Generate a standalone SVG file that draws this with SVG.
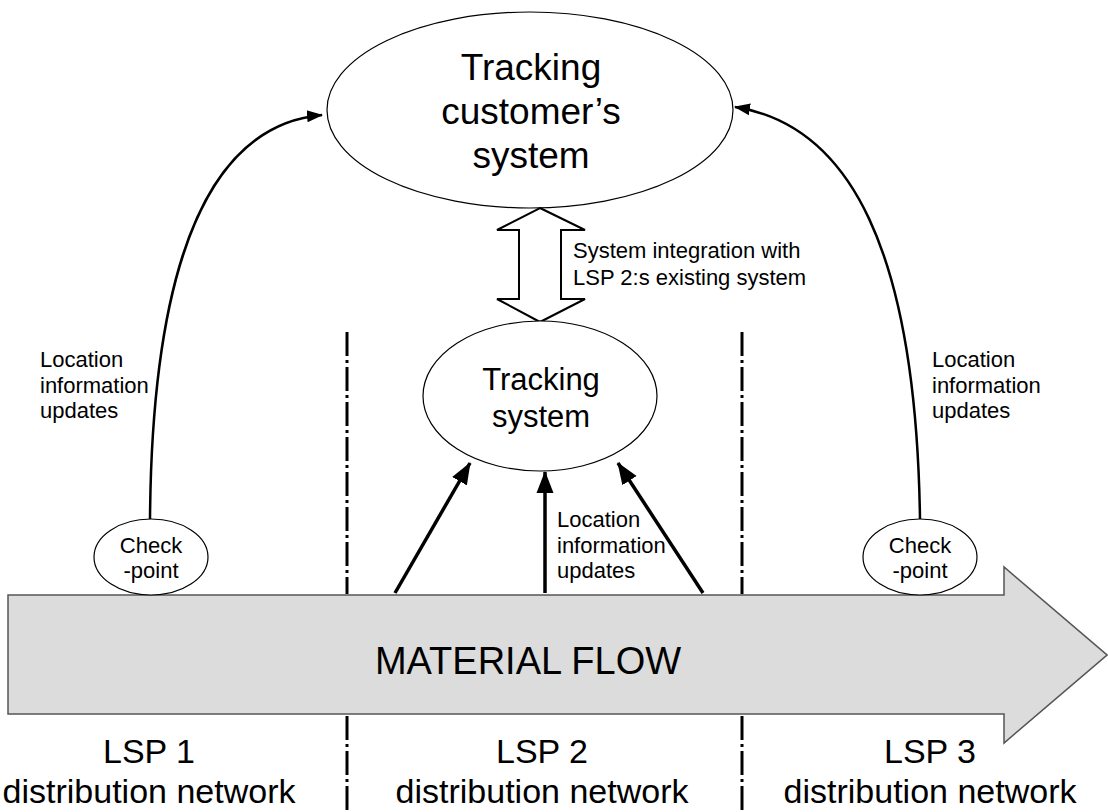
<svg xmlns="http://www.w3.org/2000/svg" width="1108" height="812" viewBox="0 0 1108 812">
<defs>
<style>
text{font-family:"Liberation Sans",Arial,sans-serif;fill:#000}
.big{font-size:37px;text-anchor:middle}
.flow{font-size:38px;text-anchor:middle}
.mid{font-size:31px;text-anchor:middle}
.sm{font-size:22px}
.smc{font-size:22px;text-anchor:middle}
.lsp{font-size:34px;text-anchor:middle}
.ell{fill:#fff;stroke:#000;stroke-width:1.2}
.divider{stroke:#000;stroke-width:3;stroke-dasharray:24 4 3 4;fill:none}
.curve{fill:none;stroke:#000;stroke-width:2.5}
.thick{fill:none;stroke:#000;stroke-width:3.5}
</style>
<marker id="ah" markerUnits="userSpaceOnUse" markerWidth="16" markerHeight="14" refX="15" refY="6" orient="auto" viewBox="0 0 16 12">
<path d="M0,0 L16,6 L0,12 Z" fill="#000"/>
</marker>
<marker id="ahb" markerUnits="userSpaceOnUse" markerWidth="22" markerHeight="18" refX="21" refY="8.5" orient="auto" viewBox="0 0 22 17">
<path d="M0,0 L22,8.5 L0,17 Z" fill="#000"/>
</marker>
</defs>
<rect width="1108" height="812" fill="#fff"/>

<g id="dividers">
<line class="divider" x1="347" y1="332" x2="347" y2="594"/>
<line class="divider" x1="742" y1="332" x2="742" y2="594"/>
<line class="divider" x1="347" y1="716" x2="347" y2="812"/>
<line class="divider" x1="742" y1="716" x2="742" y2="812"/>
</g>

<g id="material-flow">
<path d="M8,595 L1004,595 L1004,567 L1107,655 L1004,743 L1004,714 L8,714 Z" fill="#dcdcdc" stroke="#555" stroke-width="1.5"/>
<text class="flow" x="528" y="674">MATERIAL FLOW</text>
</g>

<g id="customer-system">
<ellipse class="ell" cx="530" cy="110" rx="203" ry="98"/>
<text class="big" x="531" y="80">Tracking</text>
<text class="big" x="531" y="124">customer’s</text>
<text class="big" x="531" y="168">system</text>
</g>

<g id="integration">
<polygon points="540,208 585,230 561,230 561,299 585,299 540,322 497,299 519,299 519,230 497,230" fill="#fff" stroke="#000" stroke-width="2"/>
<text class="sm" x="573" y="258">System integration with</text>
<text class="sm" x="573" y="285">LSP 2:s existing system</text>
</g>

<g id="tracking-system">
<ellipse class="ell" cx="540" cy="396" rx="117" ry="75"/>
<text class="mid" x="541" y="390">Tracking</text>
<text class="mid" x="541" y="427">system</text>
</g>

<g id="checkpoint-1">
<ellipse class="ell" cx="151" cy="557" rx="57" ry="38"/>
<text class="smc" x="151" y="553">Check</text>
<text class="smc" x="151" y="578">-point</text>
</g>

<g id="checkpoint-3">
<ellipse class="ell" cx="920" cy="557" rx="57" ry="38"/>
<text class="smc" x="920" y="553">Check</text>
<text class="smc" x="920" y="578">-point</text>
</g>

<g id="connectors">
<path class="curve" d="M150,519 C152,260 210,125 322,115" marker-end="url(#ah)"/>
<path class="curve" d="M920,519 C916,250 850,125 735,107" marker-end="url(#ah)"/>
<line class="thick" x1="395" y1="593" x2="470" y2="463" marker-end="url(#ahb)"/>
<line class="thick" x1="545" y1="593" x2="545" y2="472" marker-end="url(#ahb)"/>
<line class="thick" x1="703" y1="593" x2="618" y2="463" marker-end="url(#ahb)"/>
</g>

<g id="labels">
<text class="sm" x="40" y="367">Location</text>
<text class="sm" x="40" y="393">information</text>
<text class="sm" x="40" y="418">updates</text>
<text class="sm" x="932" y="367">Location</text>
<text class="sm" x="932" y="393">information</text>
<text class="sm" x="932" y="418">updates</text>
<text class="sm" x="557" y="527">Location</text>
<text class="sm" x="557" y="553">information</text>
<text class="sm" x="557" y="578">updates</text>
<text class="lsp" x="149" y="763">LSP 1</text>
<text class="lsp" x="149" y="803">distribution network</text>
<text class="lsp" x="542" y="763">LSP 2</text>
<text class="lsp" x="542" y="803">distribution network</text>
<text class="lsp" x="930" y="763">LSP 3</text>
<text class="lsp" x="930" y="803">distribution network</text>
</g>
</svg>
